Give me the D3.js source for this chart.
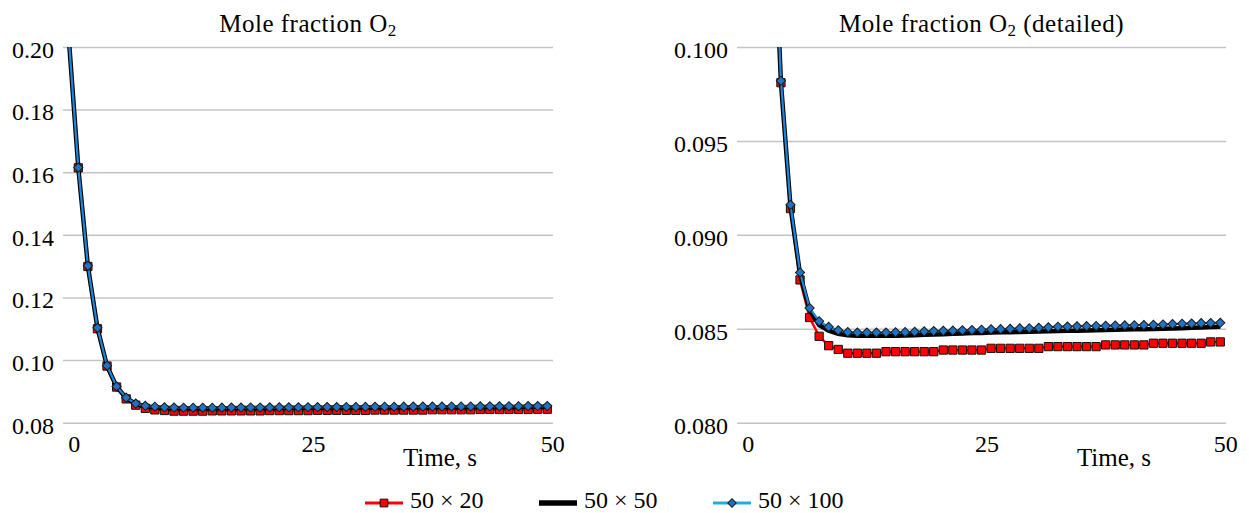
<html lang="en">
<head>
    <meta charset="utf-8">
    <title>Mole fraction O2</title>
    <script src="https://d3js.org/d3.v7.min.js"></script>
    <style type="text/css">
        body {
            margin: 0;
            background: #fff;
            font-family: "Liberation Serif", serif;
        }
        .grid path {
            display: none;
        }
        .grid line {
            stroke: #c4c4c4;
            stroke-width: 1.5px;
        }
        .axis text {
            font-family: "Liberation Serif", serif;
            font-size: 24px;
            fill: #000;
        }
        .label {
            font-family: "Liberation Serif", serif;
            font-size: 25px;
            fill: #000;
        }
    </style>
</head>
<body>
<script type="text/javascript">

    // time steps (s)
    var times = [0, 1, 2, 3, 4, 5, 6, 7, 8, 9, 10, 11, 12, 13, 14, 15, 16, 17, 18, 19, 20,
        21, 22, 23, 24, 25, 26, 27, 28, 29, 30, 31, 32, 33, 34, 35, 36, 37, 38, 39, 40,
        41, 42, 43, 44, 45, 46, 47, 48, 49, 50];

    // 50 x 20 grid
    var grid20 = [0.203, 0.1614, 0.1299, 0.1100, 0.0981, 0.0914, 0.0876, 0.0856, 0.0846, 0.0841,
        0.0839, 0.0837, 0.0837, 0.0837, 0.0837, 0.08378, 0.08378, 0.08378, 0.08378, 0.08378,
        0.08378, 0.08387, 0.08387, 0.08387, 0.08387, 0.08387, 0.08396, 0.08396, 0.08396, 0.08396,
        0.08396, 0.08396, 0.08405, 0.08405, 0.08405, 0.08405, 0.08405, 0.08405, 0.08414, 0.08414,
        0.08414, 0.08414, 0.08414, 0.08423, 0.08423, 0.08423, 0.08423, 0.08423, 0.08423, 0.0843,
        0.0843];

    // 50 x 50 grid
    var grid50 = [0.203, 0.1614, 0.1300, 0.1102, 0.0981, 0.0915, 0.0879, 0.0860, 0.0852, 0.0849,
        0.08473, 0.08466, 0.08463, 0.08463, 0.08463, 0.08463, 0.08463, 0.08464, 0.08466, 0.08468,
        0.0847, 0.08471, 0.08473, 0.08475, 0.08477, 0.08478, 0.0848, 0.08481, 0.08482, 0.08483,
        0.08484, 0.08486, 0.08487, 0.08488, 0.08489, 0.0849, 0.08491, 0.08492, 0.08494, 0.08495,
        0.08496, 0.08497, 0.08498, 0.08499, 0.085, 0.08502, 0.08503, 0.08505, 0.08507, 0.08509,
        0.08511];

    // 50 x 100 grid
    var grid100 = [0.203, 0.1615, 0.1301, 0.1103, 0.0982, 0.0916, 0.0880, 0.0861, 0.0854, 0.0851,
        0.08492, 0.08482, 0.0848, 0.0848, 0.0848, 0.0848, 0.08481, 0.08482, 0.08484, 0.08486,
        0.08488, 0.08489, 0.0849, 0.08492, 0.08493, 0.08495, 0.08497, 0.08498, 0.085, 0.08502,
        0.08503, 0.08505, 0.08508, 0.08511, 0.08512, 0.08513, 0.08514, 0.08515, 0.08516, 0.08517,
        0.08518, 0.08519, 0.0852, 0.08521, 0.08523, 0.08525, 0.08527, 0.08528, 0.0853, 0.08531,
        0.08532];

    var seriesNames = ["50 \u00d7 20", "50 \u00d7 50", "50 \u00d7 100"];
    var xTicks = [0, 25, 50];
    var yTicksMain = [0.08, 0.10, 0.12, 0.14, 0.16, 0.18, 0.20];
    var yTicksDetail = [0.080, 0.085, 0.090, 0.095, 0.100];

    var plotTop = 47, plotBottom = 422.7;

    var panels = [
        {left: 63, width: 490, domain: [0.08, 0.20], ticks: yTicksMain, fmt: ".2f", title: ""},
        {left: 737, width: 489, domain: [0.08, 0.10], ticks: yTicksDetail, fmt: ".3f", title: " (detailed)"}
    ];

    var svg = d3.select("body").append("svg")
        .attr("width", 1249)
        .attr("height", 513);

    function rows(values) {
        return times.map(function (t, i) {
            return {t: t, v: values[i]};
        });
    }

    panels.forEach(function (p, k) {
        var x = d3.scaleLinear().domain([-0.6, 50.6]).range([p.left, p.left + p.width]);
        var y = d3.scaleLinear().domain(p.domain).range([plotBottom, plotTop]);

        svg.append("g")
            .attr("class", "grid axis")
            .attr("transform", "translate(" + p.left + ",0)")
            .call(d3.axisLeft(y).tickValues(p.ticks).tickSize(-p.width).tickPadding(9).tickFormat(d3.format(p.fmt)))
            .selectAll("text")
            .attr("dy", "0.43em");

        var xa = svg.append("g")
            .attr("class", "axis")
            .attr("transform", "translate(0," + plotBottom + ")")
            .call(d3.axisBottom(x).tickValues(xTicks).tickSize(0).tickPadding(12));
        xa.select(".domain").remove();
        xa.selectAll("text").attr("dx", 5);

        // title
        var title = svg.append("text")
            .attr("class", "label")
            .attr("x", p.left + p.width / 2)
            .attr("y", 31.5)
            .style("letter-spacing", "0.5px")
            .style("text-anchor", "middle");
        title.append("tspan").text("Mole fraction O");
        title.append("tspan").attr("dy", 4).style("font-size", "17px").text("2");
        title.append("tspan").attr("dy", -4).text(p.title);

        svg.append("text")
            .attr("class", "label")
            .attr("x", p.left + 377)
            .attr("y", 466)
            .style("text-anchor", "middle")
            .text("Time, s");

        var clipId = "clip" + k;
        svg.append("clipPath").attr("id", clipId)
            .append("rect")
            .attr("x", p.left)
            .attr("y", plotTop)
            .attr("width", p.width)
            .attr("height", plotBottom - plotTop);

        var plot = svg.append("g").attr("clip-path", "url(#" + clipId + ")");
        var line = d3.line()
            .x(function (d) { return x(d.t); })
            .y(function (d) { return y(d.v); });

        // 50 x 20
        plot.append("path")
            .datum(rows(grid20))
            .attr("d", line)
            .style("fill", "none")
            .style("stroke", "#ff0000")
            .style("stroke-width", 2.5);
        plot.selectAll(".sq")
            .data(rows(grid20))
            .enter().append("path")
            .attr("class", "sq")
            .attr("d", d3.symbol().type(d3.symbolSquare).size(68))
            .attr("transform", function (d) { return "translate(" + x(d.t) + "," + y(d.v) + ")"; })
            .style("fill", "#ff0000")
            .style("stroke", "#111")
            .style("stroke-width", 1);

        // 50 x 50
        plot.append("path")
            .datum(rows(grid50))
            .attr("d", line)
            .style("fill", "none")
            .style("stroke", "#000")
            .style("stroke-width", 4.5);

        // 50 x 100
        plot.append("path")
            .datum(rows(grid100))
            .attr("d", line)
            .style("fill", "none")
            .style("stroke", "#1c86db")
            .style("stroke-width", 2.2);
        plot.selectAll(".dm")
            .data(rows(grid100))
            .enter().append("path")
            .attr("class", "dm")
            .attr("d", d3.symbol().type(d3.symbolSquare).size(42))
            .attr("transform", function (d) { return "translate(" + x(d.t) + "," + y(d.v) + ") rotate(45)"; })
            .style("fill", "#1f72c4")
            .style("stroke", "#1a1a1a")
            .style("stroke-width", 1);
    });

    // legend
    var legend = svg.append("g").attr("transform", "translate(365,503)");
    var lineColors = ["#ff0000", "#000", "#29a9e1"];
    var lineWidths = [3, 5.5, 3];
    seriesNames.forEach(function (name, i) {
        var g = legend.append("g").attr("transform", "translate(" + (i * 174) + ",0)");
        g.append("line")
            .attr("x1", 0).attr("x2", 38)
            .style("stroke", lineColors[i])
            .style("stroke-width", lineWidths[i]);
        if (i === 0) {
            g.append("path")
                .attr("d", d3.symbol().type(d3.symbolSquare).size(60))
                .attr("transform", "translate(19,0)")
                .style("fill", "#ff0000").style("stroke", "#111");
        }
        if (i === 2) {
            g.append("path")
                .attr("d", d3.symbol().type(d3.symbolSquare).size(36))
                .attr("transform", "translate(19,0) rotate(45)")
                .style("fill", "#1f72c4").style("stroke", "#1a1a1a");
        }
        g.append("text")
            .attr("class", "label")
            .attr("x", 45)
            .attr("y", 5)
            .style("font-size", "24px")
            .text(name);
    });

</script>
</body>
</html>
